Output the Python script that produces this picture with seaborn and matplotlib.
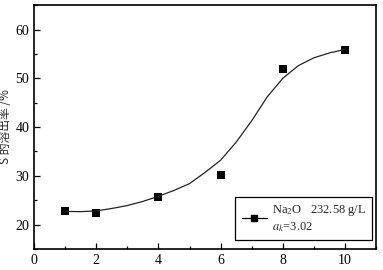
import numpy as np
import pandas as pd
import matplotlib
matplotlib.use("Agg")
import matplotlib.pyplot as plt
import seaborn as sns
from matplotlib.lines import Line2D
from matplotlib.ticker import MultipleLocator

# measured points
time_x = [1, 2, 4, 6, 8, 10]
rate_y = [22.7, 22.45, 25.7, 30.2, 51.8, 55.9]

# fitted curve
curve_x = [1, 1.5, 2, 2.5, 3, 3.5, 4, 4.5, 5, 5.5, 6, 6.5, 7, 7.5, 8, 8.5, 9, 9.5, 10]
curve_y = [22.7, 22.65, 22.8, 23.3, 23.9, 24.75, 25.8, 27.0, 28.4, 30.7, 33.2,
           36.9, 41.3, 46.2, 50.0, 52.6, 54.2, 55.2, 55.9]

x_ticks = [0, 2, 4, 6, 8, 10]
y_ticks = [20, 30, 40, 50, 60]


def main() -> None:
    sns.set_theme(style="ticks")
    plt.rcParams["font.family"] = ["Liberation Serif", "Noto Sans CJK SC"]
    plt.rcParams["mathtext.fontset"] = "stix"

    pts = pd.DataFrame({"x": time_x, "y": rate_y})
    fit = pd.DataFrame({"x": curve_x, "y": curve_y})

    fig = plt.figure(figsize=(3.83, 2.70), dpi=100)
    ax = fig.add_axes([0.089, 0.078, 0.893, 0.903])

    sns.lineplot(data=fit, x="x", y="y", ax=ax, color="#222222", linewidth=0.9)
    sns.scatterplot(data=pts, x="x", y="y", ax=ax, marker="s", s=26,
                    color="black", edgecolor="black", linewidth=0)

    ax.set_xlim(0, 11)
    ax.set_ylim(15, 65)
    ax.set_xticks(x_ticks)
    ax.set_yticks(y_ticks)
    ax.xaxis.set_minor_locator(MultipleLocator(1))
    ax.yaxis.set_minor_locator(MultipleLocator(5))
    ax.tick_params(which="both", direction="in", labelsize=10, colors="black")
    ax.tick_params(which="major", length=4, width=0.9)
    ax.tick_params(which="minor", length=2.5, width=0.9)
    ax.set_xlabel("")
    ax.set_ylabel("S 的溶出率 /%", fontsize=8.5,
                  family=["Noto Sans CJK SC", "DejaVu Sans"])
    ax.yaxis.set_label_coords(-0.066, 0.5)
    for sp in ax.spines.values():
        sp.set_linewidth(1.2)
        sp.set_color("black")

    handle = Line2D([], [], color="black", linewidth=0.9, marker="s", markersize=5)
    leg = ax.legend([handle], ["Na$_2$O   232.58 g/L\n$a_k$=3.02"], loc="lower right",
                    fontsize=9, frameon=True, fancybox=False, edgecolor="black",
                    framealpha=1, handlelength=2.0, handletextpad=0.4,
                    borderpad=0.5, borderaxespad=0, bbox_to_anchor=(0.988, 0.037))
    leg.get_frame().set_linewidth(0.9)

    fig.savefig("out.png", dpi=100)


if __name__ == "__main__":
    main()
